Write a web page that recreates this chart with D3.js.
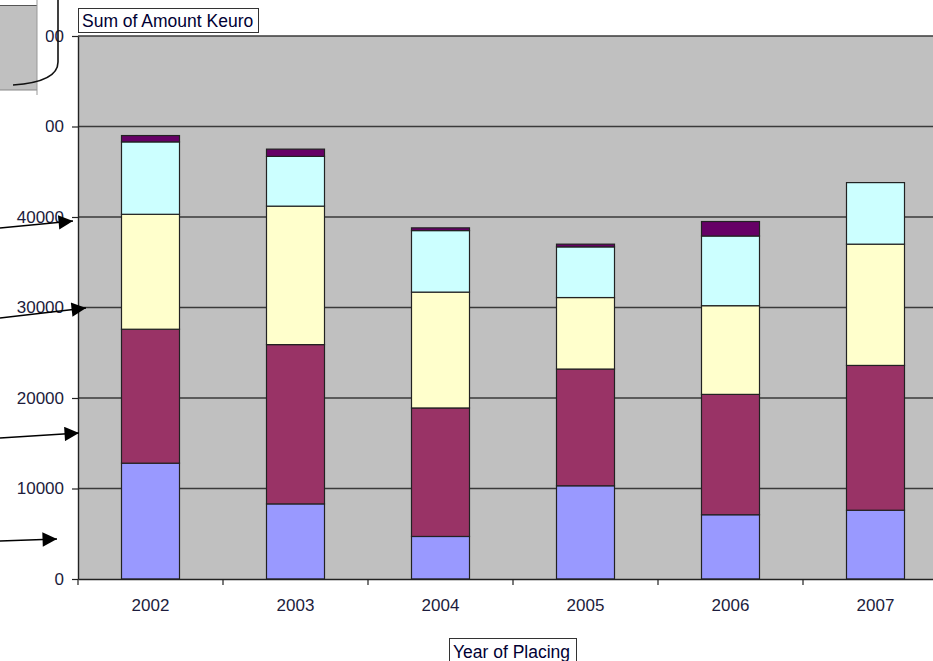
<!DOCTYPE html>
<html><head><meta charset="utf-8">
<script src="https://cdn.jsdelivr.net/npm/d3@7"></script>
<style>body{margin:0;background:#fff;}svg{display:block;font-family:"Liberation Sans",Arial,sans-serif;}</style>
</head><body><svg id="c" width="933" height="661"></svg>
<script>
const years = ["2002","2003","2004","2005","2006","2007"];
const seriesNames = ["s1","s2","s3","s4","s5"];
const s1 = [12800, 8300, 4700, 10300, 7100, 7600];
const s2 = [14800, 17600, 14200, 12900, 13300, 16000];
const s3 = [12700, 15300, 12800, 7900, 9800, 13400];
const s4 = [8000, 5500, 6800, 5600, 7700, 6800];
const s5 = [700, 800, 300, 300, 1600, 0];
const yTicks = [0, 10000, 20000, 30000, 40000, 50000, 60000];
const colors = ["#9999FF","#993366","#FFFFCC","#CCFFFF","#660066"];

const svg = d3.select("#c");
const padL = 78, padT = 36, padB = 579, step = 145;
const x = d3.scaleBand().domain(years).range([padL, padL + step*years.length]).paddingInner(0.6).paddingOuter(0.3);
const y = d3.scaleLinear().domain([0, 60000]).range([padB, padT]);

// plot background
svg.append("rect").attr("x", padL).attr("y", padT).attr("width", 933-padL).attr("height", padB-padT).attr("fill", "#C0C0C0");
// gridlines
svg.append("g").selectAll("line").data(yTicks.filter(d=>d>0)).join("line")
  .attr("x1", padL).attr("x2", 933).attr("y1", d=>y(d)).attr("y2", d=>y(d))
  .attr("stroke", "#3a3a3a").attr("stroke-width", 1.4);

// stacked bars
const table = years.map((yr,i)=>({year:yr, s1:s1[i], s2:s2[i], s3:s3[i], s4:s4[i], s5:s5[i]}));
const stack = d3.stack().keys(seriesNames)(table);
stack.forEach((layer, li) => {
  svg.append("g").selectAll("rect").data(layer.filter(d=>d[1]-d[0]>0)).join("rect")
    .attr("x", d=>x(d.data.year)).attr("width", x.bandwidth())
    .attr("y", d=>y(d[1])).attr("height", d=>y(d[0])-y(d[1]))
    .attr("fill", colors[li]).attr("stroke", "#222").attr("stroke-width", 1.2);
});

// axes
const yAxis = d3.axisLeft(y).tickValues(yTicks).tickSize(6).tickFormat(d=>String(d)).tickSizeOuter(0);
const gy = svg.append("g").attr("transform", `translate(${padL},0)`).call(yAxis);
gy.select(".domain").attr("stroke", "#222").attr("stroke-width", 1.4);
gy.selectAll(".tick line").attr("stroke", "#222").attr("stroke-width", 1.2);
gy.selectAll("text").attr("font-size", 17).attr("fill", "#1c1c3c").attr("x", -14).attr("font-family", "Liberation Sans, Arial, sans-serif");

const xAxis = d3.axisBottom(x).tickSize(0).tickSizeOuter(0);
const gx = svg.append("g").attr("transform", `translate(0,${padB})`).call(xAxis);
gx.select(".domain").attr("stroke", "#222").attr("stroke-width", 1.4);
gx.selectAll("text").attr("font-size", 17).attr("fill", "#1c1c3c").attr("y", 32).attr("dy", 0).attr("font-family", "Liberation Sans, Arial, sans-serif");
// boundary ticks between categories
svg.append("g").selectAll("line").data(d3.range(years.length+1)).join("line")
  .attr("x1", i=>padL+i*step).attr("x2", i=>padL+i*step).attr("y1", padB).attr("y2", padB+6)
  .attr("stroke", "#222").attr("stroke-width", 1.2);

// occluding shapes top-left (cut-off legend remains)
svg.append("rect").attr("x", 0).attr("y", 0).attr("width", 45.5).attr("height", 138).attr("fill", "#fff");
svg.append("rect").attr("x", 0).attr("y", 5).attr("width", 37).attr("height", 85).attr("fill", "#C0C0C0");
svg.append("line").attr("x1",0).attr("x2",37).attr("y1",5.5).attr("y2",5.5).attr("stroke","#555").attr("stroke-width",1);
svg.append("line").attr("x1",0).attr("x2",37).attr("y1",90).attr("y2",90).attr("stroke","#888").attr("stroke-width",1);
svg.append("line").attr("x1",37).attr("x2",37).attr("y1",0).attr("y2",95).attr("stroke","#999").attr("stroke-width",1);
svg.append("path").attr("d","M58,0 L58,62 Q58,82 13,85").attr("fill","none").attr("stroke","#111").attr("stroke-width",1.6);

// arrows
const defs = svg.append("defs");
defs.append("marker").attr("id","ah").attr("viewBox","0 0 10 10").attr("refX",10).attr("refY",5)
  .attr("markerWidth",10).attr("markerHeight",8.5).attr("markerUnits","strokeWidth").attr("orient","auto")
  .append("path").attr("d","M0,0 L10,5 L0,10 Z").attr("fill","#000");
const arrows = [[0,228,73,221],[0,318,86,308],[0,438,79,433],[0,541,57,539]];
svg.append("g").selectAll("line").data(arrows).join("line")
  .attr("x1",d=>d[0]).attr("y1",d=>d[1]).attr("x2",d=>d[2]).attr("y2",d=>d[3])
  .attr("stroke","#000").attr("stroke-width",1.7).attr("marker-end","url(#ah)");

// title box
const tb = svg.append("g");
tb.append("rect").attr("x",78.5).attr("y",8.5).attr("width",180).attr("height",24).attr("fill","#fff").attr("stroke","#333");
tb.append("text").attr("x",82).attr("y",27).attr("font-size",17.5).attr("fill","#000033").text("Sum of Amount Keuro");
// x axis title box
const xb = svg.append("g");
xb.append("rect").attr("x",449.5).attr("y",638.5).attr("width",127).attr("height",26).attr("fill","#fff").attr("stroke","#333");
xb.append("text").attr("x",453).attr("y",658).attr("font-size",17.5).attr("fill","#000033").text("Year of Placing");
</script></body></html>
